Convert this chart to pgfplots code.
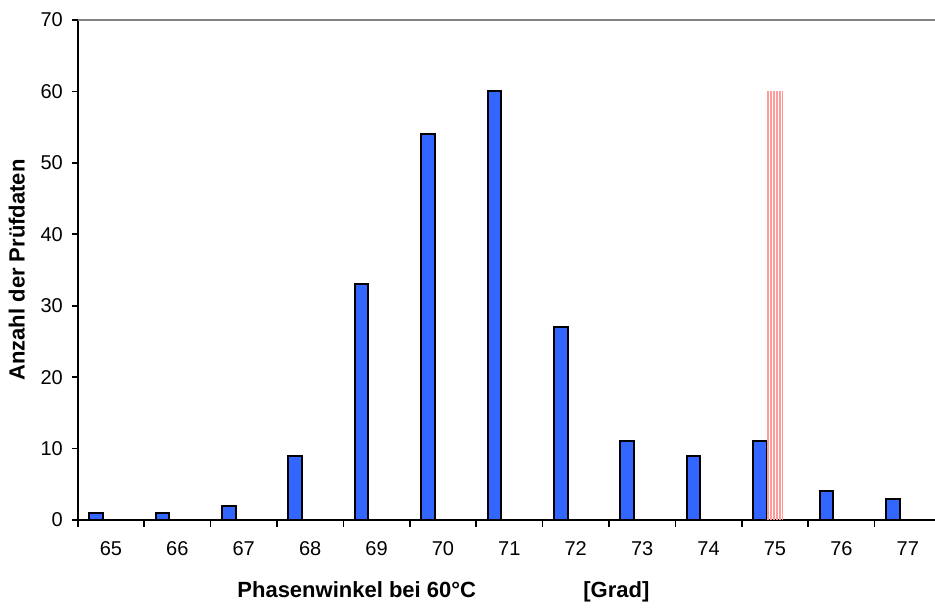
\documentclass[border=0pt]{standalone}
\usepackage{pgfplots}
\pgfplotsset{compat=1.18}
\usepackage{fontspec}
\setmainfont{Liberation Sans}
\usetikzlibrary{patterns.meta}
\definecolor{barblue}{RGB}{51,102,255}
\definecolor{stripe}{RGB}{255,155,155}
\begin{document}
\begin{tikzpicture}
\begin{axis}[
  scale only axis,
  width=428.65pt, height=250pt,
  xmin=-0.5, xmax=12.41,
  ymin=0, ymax=70,
  axis x line*=bottom, axis y line*=left,
  axis line style={black, line width=0.8pt},
  xtick={0,...,12},
  xticklabels={65,66,67,68,69,70,71,72,73,74,75,76,77},
  minor xtick={-0.5,0.5,...,11.5},
  major x tick style={draw=none},
  minor tick length=3.5pt,
  ytick={0,10,...,70},
  major tick length=3pt,
  tick align=outside,
  tick style={black, line width=0.8pt},
  xticklabel style={yshift=-4.3pt},
  yticklabel style={xshift=-0.9pt},
  tick label style={font=\fontsize{10}{12}\selectfont},
  /pgf/number format/assume math mode=true,
  clip=false,
  ybar,
]
\addplot[fill=barblue, draw=black, line width=1pt, bar width=6.8pt, bar shift=-7.5pt]
  coordinates {(0,1) (1,1) (2,2) (3,9) (4,33) (5,54) (6,60) (7,27) (8,11) (9,9) (10,11) (11,4) (12,3)};
\addplot[draw=none, pattern={Lines[angle=90,distance=1.5pt,line width=1pt]}, pattern color=stripe, bar width=8pt, bar shift=0pt]
  coordinates {(10,60)};
\coordinate (o) at (rel axis cs:0,0);
\coordinate (tr) at (rel axis cs:1,1);
\coordinate (tl) at (rel axis cs:0,1);
\coordinate (ml) at (rel axis cs:0,0.5);
\end{axis}
\draw[gray, line width=0.6pt] (tl) -- (tr);
\node[anchor=base west, inner sep=0pt, font=\fontsize{11}{13}\selectfont\bfseries] at ([shift={(79.65pt,-39pt)}]o) {Phasenwinkel bei 60°C};
\node[anchor=base west, inner sep=0pt, font=\fontsize{11}{13}\selectfont\bfseries] at ([shift={(252.65pt,-39pt)}]o) {[Grad]};
\node[rotate=90, anchor=base, inner sep=0pt, font=\fontsize{11}{13}\selectfont\bfseries] at ([shift={(-26.5pt,0pt)}]ml) {Anzahl der Prüfdaten};
\pgfresetboundingbox
\path[use as bounding box] ([shift={(-38.85pt,-44pt)}]o) rectangle ([shift={(0pt,10pt)}]tr);
\end{tikzpicture}
\end{document}
